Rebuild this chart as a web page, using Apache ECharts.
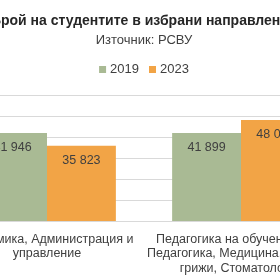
<!DOCTYPE html>
<html>
<head>
<meta charset="utf-8">
<script src="https://cdn.jsdelivr.net/npm/echarts@6/dist/echarts.min.js"></script>
<style>
  html, body { margin: 0; padding: 0; width: 280px; height: 280px; overflow: hidden; background: #fff; }
  #main { position: absolute; left: -60px; top: 0; width: 408px; height: 280px; }
</style>
</head>
<body>
<div id="main"></div>
<script>
// данни
const categories = [
  'Икономика, Администрация и\nуправление',
  'Педагогика на обучението по\nПедагогика, Медицина, Здравни\nгрижи, Стоматология'
]
const seriesNames = ['2019', '2023']
const values2019 = [41946, 41899]
const values2023 = [35823, 48050]

const colors = ['#a9ba94', '#f2a446']
const font = 'Liberation Sans'

const fmt = (v) => String(v).replace(/\B(?=(\d{3})+(?!\d))/g, ' ')

const chartBox = echarts.init(document.getElementById('main'))
const labelStyle = {
  show: true,
  position: 'insideTop',
  distance: 8,
  color: '#404040',
  fontSize: 12.5,
  fontFamily: font,
  formatter: (p) => fmt(p.value)
}

const option = {
  animation: false,
  title: {
    text: 'Брой на студентите в избрани направления',
    subtext: 'Източник: РСВУ',
    left: 'center',
    top: 9,
    itemGap: 6,
    textStyle: { fontSize: 14, fontWeight: 'bold', color: '#262626', fontFamily: font },
    subtextStyle: { fontSize: 13, color: '#404040', fontFamily: font }
  },
  legend: {
    top: 58,
    left: 'center',
    itemWidth: 7,
    itemHeight: 7,
    itemGap: 10,
    icon: 'rect',
    textStyle: { fontSize: 13, color: '#404040', fontFamily: font, padding: [0, 0, 0, -1] },
    data: seriesNames
  },
  grid: { left: 10, right: 10, top: 95, bottom: 59, containLabel: false },
  xAxis: {
    type: 'category',
    data: categories,
    axisTick: { show: false },
    axisLine: { lineStyle: { color: '#d9d9d9' } },
    axisLabel: { color: '#404040', fontSize: 12.5, fontFamily: font, lineHeight: 14.5, margin: 11, interval: 0 }
  },
  yAxis: {
    type: 'value',
    min: 0,
    max: 60000,
    interval: 10000,
    axisLabel: { show: false },
    splitLine: { lineStyle: { color: '#d9d9d9' } }
  },
  series: [
    {
      name: seriesNames[0],
      type: 'bar',
      data: values2019,
      barGap: 0,
      barCategoryGap: '29%',
      itemStyle: { color: colors[0] },
      label: labelStyle
    },
    {
      name: seriesNames[1],
      type: 'bar',
      data: values2023,
      itemStyle: { color: colors[1] },
      label: labelStyle
    }
  ]
}
chartBox.setOption(option)
</script>
</body>
</html>
